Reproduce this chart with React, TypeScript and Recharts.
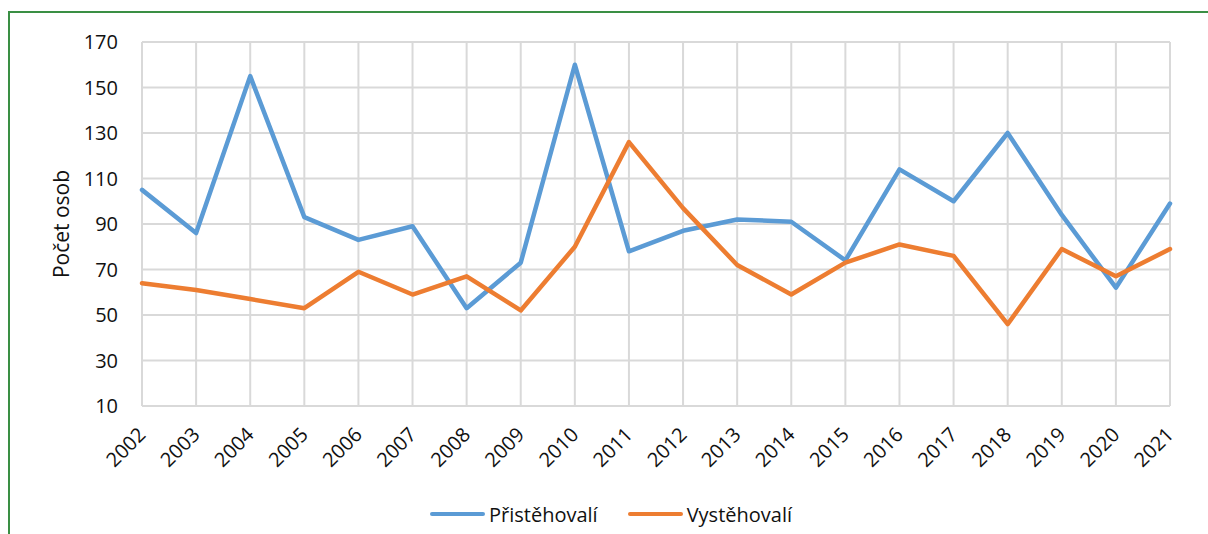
import { LineChart, Line, XAxis, YAxis, CartesianGrid, Legend } from 'recharts';

const years = ['2002', '2003', '2004', '2005', '2006', '2007', '2008', '2009', '2010', '2011', '2012', '2013', '2014', '2015', '2016', '2017', '2018', '2019', '2020', '2021'];
const immigrants = [105, 86, 155, 93, 83, 89, 53, 73, 160, 78, 87, 92, 91, 74, 114, 100, 130, 94, 62, 99];
const emigrants = [64, 61, 57, 53, 69, 59, 67, 52, 80, 126, 97, 72, 59, 73, 81, 76, 46, 79, 67, 79];
const yTicks = [10, 30, 50, 70, 90, 110, 130, 150, 170];

const data = years.map((year, i) => ({ year, prist: immigrants[i], vyst: emigrants[i] }));

const FONT = '"Open Sans", "Noto Sans", sans-serif';
const BLUE = '#5b9bd5';
const ORANGE = '#ed7d31';

const YearTick = ({ x, y, payload }: any) => (
  <g transform={`translate(${x},${y})`}>
    <text transform="rotate(-45)" textAnchor="end" dy="0.35em" style={{ fontSize: 20, fontFamily: FONT }} fill="#111">
      {payload.value}
    </text>
  </g>
);

const legendItems = [
  { name: 'Přistěhovalí', color: BLUE },
  { name: 'Vystěhovalí', color: ORANGE },
];

const LegendBox = () => (
  <div style={{ display: 'flex', justifyContent: 'center', alignItems: 'center', height: 30, gap: 30, paddingLeft: 14, fontFamily: FONT, fontSize: 20, color: '#111' }}>
    {legendItems.map((it) => (
      <div key={it.name} style={{ display: 'flex', alignItems: 'center' }}>
        <div style={{ width: 55, height: 4, borderRadius: 2, background: it.color, marginRight: 4 }} />
        <span>{it.name}</span>
      </div>
    ))}
  </div>
);

export default function App() {
  return (
    <div style={{ position: 'absolute', left: 0, top: 0, width: 1208, height: 534, overflow: 'hidden', background: '#fff' }}>
      <div style={{ position: 'absolute', left: 8, top: 11, width: 1300, height: 600, borderLeft: '2px solid #3a8f44', borderTop: '2px solid #3a8f44' }} />
      <LineChart width={1208} height={534} data={data} margin={{ top: 42, right: 38, left: 30, bottom: 5 }}>
        <CartesianGrid stroke="#d9d9d9" strokeWidth={2} />
        <XAxis
          dataKey="year"
          axisLine={{ stroke: '#d9d9d9', strokeWidth: 2 }}
          tickLine={false}
          interval={0}
          height={93}
          tickMargin={19}
          tick={<YearTick />}
        />
        <YAxis
          domain={[10, 170]}
          ticks={yTicks}
          width={112}
          axisLine={false}
          tickLine={false}
          tickMargin={18}
          tick={{ fontSize: 20, fontFamily: FONT, fill: '#111' }}
          label={{
            content: ({ viewBox }: any) => {
              const cx = viewBox.x + 32;
              const cy = viewBox.y + viewBox.height / 2;
              return (
                <text x={cx} y={cy} transform={`rotate(-90 ${cx} ${cy})`} textAnchor="middle" dy="0.35em" style={{ fontSize: 21, fontFamily: FONT }} fill="#111">
                  Počet osob
                </text>
              );
            },
          }}
        />
        <Legend verticalAlign="bottom" wrapperStyle={{ left: 0, width: 1208 }} content={<LegendBox />} />
        <Line type="linear" dataKey="prist" name="Přistěhovalí" stroke={BLUE} strokeWidth={4.5} dot={false} strokeLinejoin="round" strokeLinecap="round" isAnimationActive={false} />
        <Line type="linear" dataKey="vyst" name="Vystěhovalí" stroke={ORANGE} strokeWidth={4.5} dot={false} strokeLinejoin="round" strokeLinecap="round" isAnimationActive={false} />
      </LineChart>
    </div>
  );
}
